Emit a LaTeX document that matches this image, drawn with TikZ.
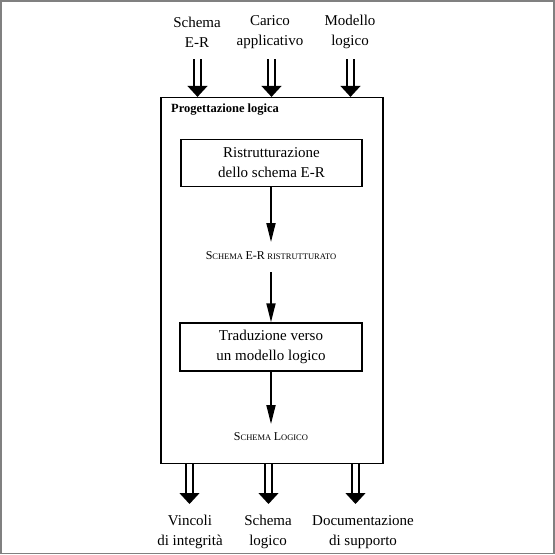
\documentclass[tikz,border=0pt]{standalone}
\usepackage{fontspec}
\setmainfont{Liberation Serif}
\usetikzlibrary{arrows.meta}
\newcommand\capA{\fontsize{12}{14}\selectfont}
\newcommand\capB{\fontsize{8.5}{10}\selectfont}
\begin{document}
\begin{tikzpicture}[x=1pt,y=-1pt,
  lbl/.style={align=center,font=\fontsize{15}{20}\selectfont,inner sep=0pt},
  stepbox/.style={draw,line width=1.5pt,minimum width=181pt,minimum height=47pt,align=center,font=\fontsize{15}{20}\selectfont,inner sep=0pt},
  sc/.style={inner sep=0pt},
  flow/.style={line width=1.8pt,-{Triangle[width=9pt,length=19pt]}},
  dbl/.style={double,double distance=5.5pt,line width=1.3pt,-{Triangle[width=20pt,length=11pt]}},
]
\useasboundingbox (0,0) rectangle (555,555);
\draw[gray,line width=1.5pt] (0.75,0.75) rectangle (554,553.5);

\node[draw,line width=1.2pt,minimum width=222pt,minimum height=366pt,inner sep=0pt] (pl) at (272,280.5) {};
\node[anchor=west,font=\bfseries\fontsize{12.5}{14}\selectfont,inner sep=0pt] (tt) at (171,110) {Progettazione logica};

\node[lbl] (l1) at (197,32) {Schema\\E-R};
\node[lbl] (l2) at (270,32) {Carico\\applicativo};
\node[lbl] (l3) at (350,32) {Modello\\logico};

\coordinate (s1) at (197.5,59);
\coordinate (s2) at (271.5,59);
\coordinate (s3) at (350.5,59);
\draw[dbl] (s1) -- (s1 |- pl.north);
\draw[dbl] (s2) -- (s2 |- pl.north);
\draw[dbl] (s3) -- (s3 |- pl.north);

\node[stepbox] (b1) at (271.5,163) {Ristrutturazione\\dello schema E-R};
\node[sc] (t1) at (271,256) {{\capA S}{\capB CHEMA} {\capA E-R} {\capB RISTRUTTURATO}};
\node[stepbox,minimum width=182pt,minimum height=48pt] (b2) at (271,347) {Traduzione verso\\un modello logico};
\node[sc] (t2) at (271,437) {{\capA S}{\capB CHEMA} {\capA L}{\capB OGICO}};

\coordinate (a1) at (271,242);
\coordinate (a2) at (271,272);
\coordinate (a3) at (271,424);
\draw[flow] (a1 |- b1.south) -- (a1);
\draw[flow] (a2) -- (a2 |- b2.north);
\draw[flow] (a3 |- b2.south) -- (a3);

\coordinate (e1) at (189.5,504);
\coordinate (e2) at (268.5,504);
\coordinate (e3) at (355.5,504);
\draw[dbl] (e1 |- pl.south) -- (e1);
\draw[dbl] (e2 |- pl.south) -- (e2);
\draw[dbl] (e3 |- pl.south) -- (e3);

\node[lbl] (o1) at (190,532) {Vincoli\\di integrità};
\node[lbl] (o2) at (268,532) {Schema\\logico};
\node[lbl] (o3) at (363,532) {Documentazione\\di supporto};
\end{tikzpicture}
\end{document}
